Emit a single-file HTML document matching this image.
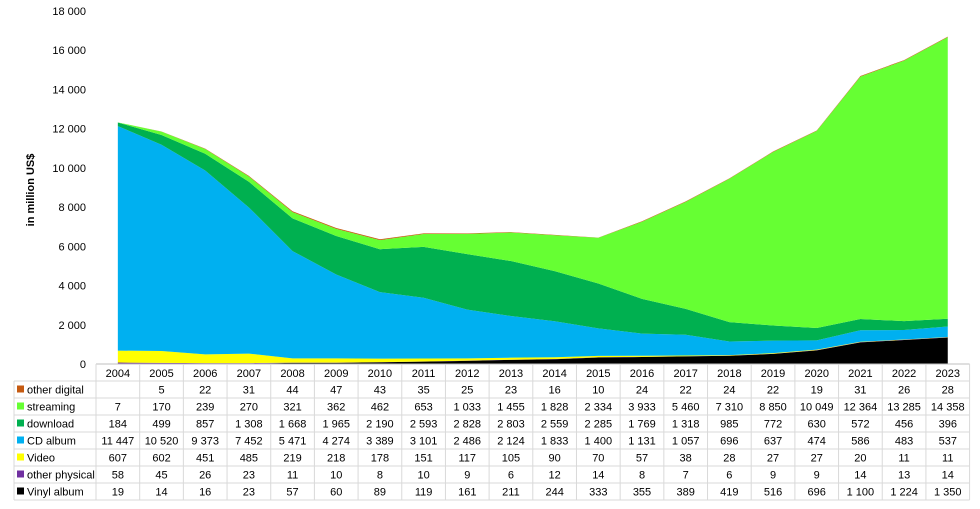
<!DOCTYPE html>
<html><head><meta charset="utf-8"><style>
body{margin:0;background:#fff;font-family:"Liberation Sans",Arial,sans-serif;}
svg text{font-family:"Liberation Sans",Arial,sans-serif;font-size:11px;fill:#000;}
</style></head><body>
<svg id="chart" width="980" height="504" xmlns="http://www.w3.org/2000/svg">
<g id="grid"></g><g id="areas"></g><g id="axes"></g><g id="table"></g>
<text transform="translate(34,190) rotate(-90)" text-anchor="middle" font-weight="bold" style="font-weight:bold">in million US$</text>
</svg>
<script>
const years=[2004,2005,2006,2007,2008,2009,2010,2011,2012,2013,2014,2015,2016,2017,2018,2019,2020,2021,2022,2023];
const vinyl=[19,14,16,23,57,60,89,119,161,211,244,333,355,389,419,516,696,1100,1224,1350];
const otherPhysical=[58,45,26,23,11,10,8,10,9,6,12,14,8,7,6,9,9,14,13,14];
const video=[607,602,451,485,219,218,178,151,117,105,90,70,57,38,28,27,27,20,11,11];
const cd=[11447,10520,9373,7452,5471,4274,3389,3101,2486,2124,1833,1400,1131,1057,696,637,474,586,483,537];
const download=[184,499,857,1308,1668,1965,2190,2593,2828,2803,2559,2285,1769,1318,985,772,630,572,456,396];
const streaming=[7,170,239,270,321,362,462,653,1033,1455,1828,2334,3933,5460,7310,8850,10049,12364,13285,14358];
const otherDigital=[null,5,22,31,44,47,43,35,25,23,16,10,24,22,24,22,19,31,26,28];
const yTicks=[0,2000,4000,6000,8000,10000,12000,14000,16000,18000];
const series=[
 {name:"Vinyl album",key:"vinyl-album",d:vinyl,c:"#000000"},
 {name:"other physical",key:"other-physical",d:otherPhysical,c:"#7030a0"},
 {name:"Video",key:"video",d:video,c:"#ffff00"},
 {name:"CD album",key:"cd-album",d:cd,c:"#00b0f0"},
 {name:"download",key:"download",d:download,c:"#00b050"},
 {name:"streaming",key:"streaming",d:streaming,c:"#66ff33"},
 {name:"other digital",key:"other-digital",d:otherDigital,c:"#c55a11"}];
const NS="http://www.w3.org/2000/svg";
const x0=96,colW=43.68,yBase=364,yTop=11,yMax=18000;
const xs=i=>x0+colW*(i+0.5);
const ys=v=>yBase-(v/yMax)*(yBase-yTop);
const fmt=v=>v==null?"":String(v).replace(/\B(?=(\d{3})+(?!\d))/g," ");
function mk(tag,at,parent){const e=document.createElementNS(NS,tag);for(const k in at)e.setAttribute(k,at[k]);parent.appendChild(e);return e;}
const axes=document.getElementById('axes'),areas=document.getElementById('areas'),table=document.getElementById('table');
yTicks.forEach(t=>{const tx=mk('text',{x:86,y:ys(t)+4,'text-anchor':'end'},axes);tx.textContent=fmt(t);

});
let base=years.map(()=>0);
series.forEach(s=>{
 const top=base.map((b,i)=>b+(s.d[i]||0));
 let p="M"+years.map((_,i)=>xs(i)+","+ys(top[i])).join(" L");
 for(let i=years.length-1;i>=0;i--)p+=" L"+xs(i)+","+ys(base[i]);
 const a=mk('path',{d:p+" Z",fill:s.c},areas);
 
 
 base=top;});
const ax=mk('line',{x1:x0,x2:x0+colW*20,y1:yBase,y2:yBase,stroke:'#bfbfbf'},axes);


// table
const rowH=17,tTop=381,rows=series.slice().reverse();
const tEnd=tTop+rowH*rows.length;
for(let i=0;i<=20;i++){const l=mk('line',{x1:x0+colW*i,x2:x0+colW*i,y1:yBase,y2:tEnd,stroke:'#d9d9d9'},table);

}
for(let r=0;r<=rows.length;r++){const l=mk('line',{x1:14,x2:x0+colW*20,y1:tTop+rowH*r,y2:tTop+rowH*r,stroke:'#d9d9d9'},table);

}
const lb=mk('line',{x1:14,x2:14,y1:tTop,y2:tEnd,stroke:'#d9d9d9'},table);


years.forEach((y,i)=>{const t=mk('text',{x:xs(i),y:377,'text-anchor':'middle'},table);t.textContent=y;

});
rows.forEach((s,r)=>{const cy=tTop+rowH*r+12.5;
 const sw=mk('rect',{x:17,y:cy-8,width:7,height:7,fill:s.c},table);
 
 
 const n=mk('text',{x:27,y:cy},table);n.textContent=s.name;
 
 
 s.d.forEach((v,i)=>{const t=mk('text',{x:xs(i),y:cy,'text-anchor':'middle'},table);t.textContent=fmt(v);
 
 });});
</script>
</body></html>
